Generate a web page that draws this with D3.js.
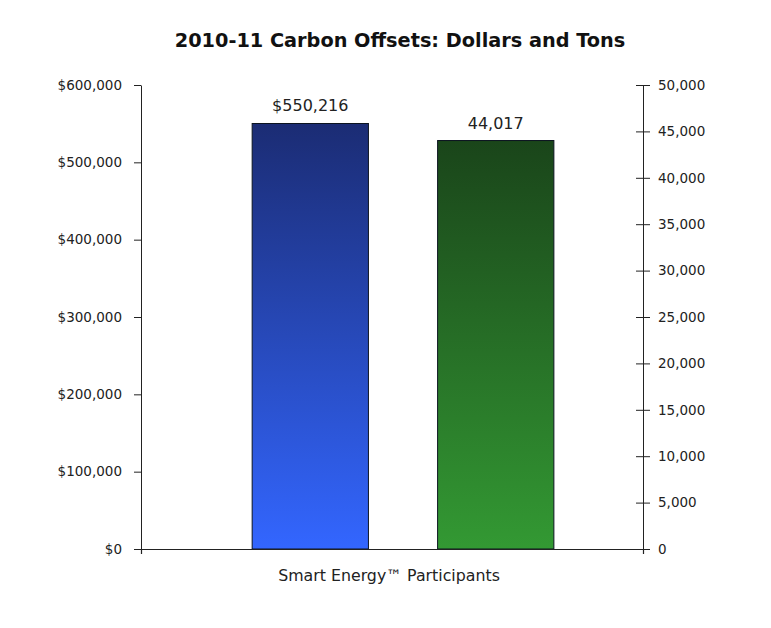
<!DOCTYPE html>
<html>
<head>
<meta charset="utf-8">
<script src="https://cdn.jsdelivr.net/npm/d3@7"></script>
<style>
  body { margin: 0; background: #fff; }
  text { font-family: "DejaVu Sans", Verdana, sans-serif; }
</style>
</head>
<body>
<div id="chart"></div>
<script>
// Chart data
const categories = ['Smart Energy\u2122 Participants'];
const seriesNames = ['Dollars', 'Tons'];
const dollars = [550216];
const tons = [44017];
const dollarTicks = [0, 100000, 200000, 300000, 400000, 500000, 600000];
const tonTicks = [0, 5000, 10000, 15000, 20000, 25000, 30000, 35000, 40000, 45000, 50000];

// Set graph sizes
const margin = { top: 85, right: 128, bottom: 79, left: 141 };
const width = 771 - margin.left - margin.right;
const height = 628 - margin.top - margin.bottom;

const svg = d3.select('#chart')
  .append('svg')
  .attr('width', 771)
  .attr('height', 628);

// gradients for the bars
const defs = svg.append('defs');
const grads = [
  { id: 'gradBlue', top: '#1b2c74', bottom: '#3366ff' },
  { id: 'gradGreen', top: '#1a451a', bottom: '#339933' },
];
grads.forEach((gr) => {
  const lg = defs.append('linearGradient')
    .attr('id', gr.id)
    .attr('x1', 0).attr('y1', 0)
    .attr('x2', 0).attr('y2', 1);
  lg.append('stop').attr('offset', '0%').attr('stop-color', gr.top);
  lg.append('stop').attr('offset', '100%').attr('stop-color', gr.bottom);
});

// title
svg.append('text')
  .attr('x', 400)
  .attr('y', 47)
  .attr('text-anchor', 'middle')
  .attr('font-size', 19.3)
  .attr('font-weight', 'bold')
  .attr('fill', '#111')
  .text('2010-11 Carbon Offsets: Dollars and Tons');

const g = svg.append('g')
  .attr('transform', `translate(${margin.left},${margin.top})`);

// scales
const x0 = d3.scaleBand()
  .domain(categories)
  .range([0, width]);

const x1 = d3.scaleBand()
  .domain(seriesNames)
  .range([0, x0.bandwidth()])
  .paddingInner(0.373)
  .paddingOuter(0.54)
  .align(0.555);

const yLeft = d3.scaleLinear()
  .domain([0, 600000])
  .range([height, 0]);

const yRight = d3.scaleLinear()
  .domain([0, 50000])
  .range([height, 0]);

// left axis
const leftAxis = g.append('g')
  .call(d3.axisLeft(yLeft)
    .tickValues(dollarTicks)
    .tickSize(7)
    .tickSizeOuter(0)
    .tickPadding(12)
    .tickFormat((d) => '$' + d3.format(',')(d)));
leftAxis.selectAll('text').attr('font-size', 13.5).attr('fill', '#222');
leftAxis.selectAll('line, path').attr('stroke', '#222');

// right axis, ticks cross the line
const rightAxis = g.append('g')
  .attr('transform', `translate(${width},0)`)
  .call(d3.axisRight(yRight)
    .tickValues(tonTicks)
    .tickSize(7)
    .tickSizeOuter(0)
    .tickPadding(8)
    .tickFormat(d3.format(',')));
rightAxis.selectAll('.tick line').attr('x1', -7);
rightAxis.selectAll('text').attr('font-size', 13.5).attr('fill', '#222');
rightAxis.selectAll('line, path').attr('stroke', '#222');

// bars
const values = { Dollars: dollars, Tons: tons };
const yScales = { Dollars: yLeft, Tons: yRight };
const fills = { Dollars: 'url(#gradBlue)', Tons: 'url(#gradGreen)' };
const labelFormat = {
  Dollars: (v) => '$' + d3.format(',')(v),
  Tons: d3.format(','),
};

categories.forEach((cat, i) => {
  const bars = seriesNames.map((s) => ({ s, v: values[s][i] }));
  const grp = g.append('g').attr('transform', `translate(${x0(cat)},0)`);

  grp.selectAll('rect')
    .data(bars)
    .join('rect')
    .attr('x', (d) => x1(d.s))
    .attr('y', (d) => yScales[d.s](d.v))
    .attr('width', x1.bandwidth())
    .attr('height', (d) => height - yScales[d.s](d.v))
    .attr('fill', (d) => fills[d.s])
    .attr('stroke', '#0c1420')
    .attr('stroke-width', 1);

  grp.selectAll('text.val')
    .data(bars)
    .join('text')
    .attr('class', 'val')
    .attr('x', (d) => x1(d.s) + x1.bandwidth() / 2)
    .attr('y', (d) => yScales[d.s](d.v) - 12)
    .attr('text-anchor', 'middle')
    .attr('font-size', 16)
    .attr('fill', '#222')
    .text((d) => labelFormat[d.s](d.v));
});

// category axis at the bottom
const bottomAxis = g.append('g')
  .attr('transform', `translate(0,${height})`)
  .call(d3.axisBottom(x0)
    .tickSize(0)
    .tickSizeOuter(5)
    .tickPadding(21));
bottomAxis.selectAll('text').attr('font-size', 15.8).attr('fill', '#222').attr('dx', -3);
bottomAxis.selectAll('path').attr('stroke', '#222').attr('stroke-width', 1.2);
</script>
</body>
</html>
